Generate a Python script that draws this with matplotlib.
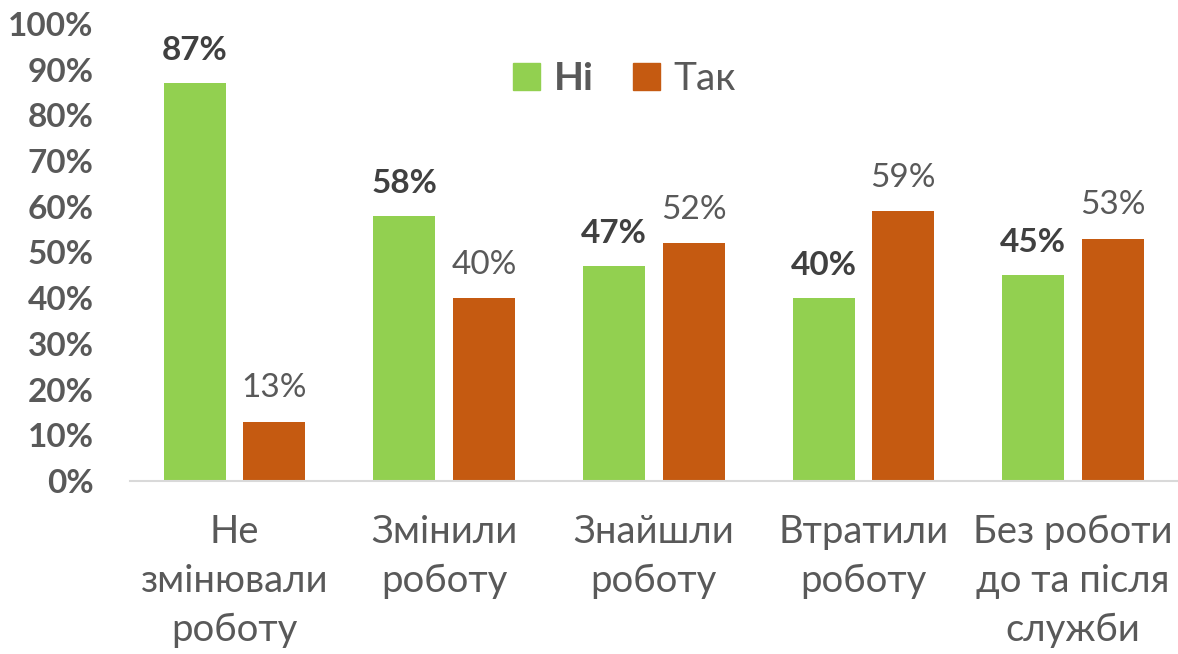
import numpy as np
import matplotlib.pyplot as plt
from matplotlib.patches import Patch

#### Data

CATEGORIES = ['Не\nзмінювали\nроботу', 'Змінили\nроботу', 'Знайшли\nроботу',
              'Втратили\nроботу', 'Без роботи\nдо та після\nслужби']
NI_VALUES = [0.87, 0.58, 0.47, 0.40, 0.45]
TAK_VALUES = [0.13, 0.40, 0.52, 0.59, 0.53]
SERIES_NAMES = ['Ні', 'Так']
Y_TICKS = [0.0, 0.1, 0.2, 0.3, 0.4, 0.5, 0.6, 0.7, 0.8, 0.9, 1.0]

GREEN = '#92D050'
ORANGE = '#C55A11'
GREY = '#595959'
DARK = '#404040'

plt.rcParams['font.family'] = ['Lato', 'Open Sans', 'DejaVu Sans']

fig = plt.figure(figsize=(11.78, 6.54), dpi=100)
ax = fig.add_axes([0.110, 0.2645, 0.890, 0.699])

x = np.arange(len(CATEGORIES))
width = 0.296
offset = 0.19
ax.bar(x - offset, NI_VALUES, width, color=GREEN)
ax.bar(x + offset, TAK_VALUES, width, color=ORANGE)

# Data labels
for xi, v in zip(x, NI_VALUES):
    ax.text(xi - offset, v + 0.04, f'{v:.0%}', ha='center', va='bottom',
            fontsize=24, fontweight='bold', color=DARK)
for xi, v in zip(x, TAK_VALUES):
    ax.text(xi + offset, v + 0.04, f'{v:.0%}', ha='center', va='bottom',
            fontsize=24, color=GREY)

ax.set_xlim(-0.5, len(CATEGORIES) - 0.5)
ax.set_ylim(0, 1.0)
ax.set_yticks(Y_TICKS)
ax.set_yticklabels([f'{t:.0%}' for t in Y_TICKS], fontsize=24, fontweight='bold', color=GREY)
ax.set_xticks(x)
ax.set_xticklabels(CATEGORIES, fontsize=27.5, color=GREY, linespacing=1.45)
ax.tick_params(axis='both', length=0)
ax.tick_params(axis='x', pad=24)
ax.tick_params(axis='y', pad=26)

for side in ['top', 'right', 'left']:
    ax.spines[side].set_visible(False)
ax.spines['bottom'].set_color('#D9D9D9')
ax.spines['bottom'].set_linewidth(1.5)

handles = [Patch(color=GREEN), Patch(color=ORANGE)]
leg = ax.legend(handles, SERIES_NAMES, loc='center', bbox_to_anchor=(0.472, 0.88),
                ncol=2, frameon=False, fontsize=28, handlelength=0.7, handleheight=0.7,
                handletextpad=0.36, columnspacing=1.0)
for t in leg.get_texts():
    t.set_color(GREY)
leg.get_texts()[0].set_fontweight('bold')

fig.savefig('out.png', dpi=100)
